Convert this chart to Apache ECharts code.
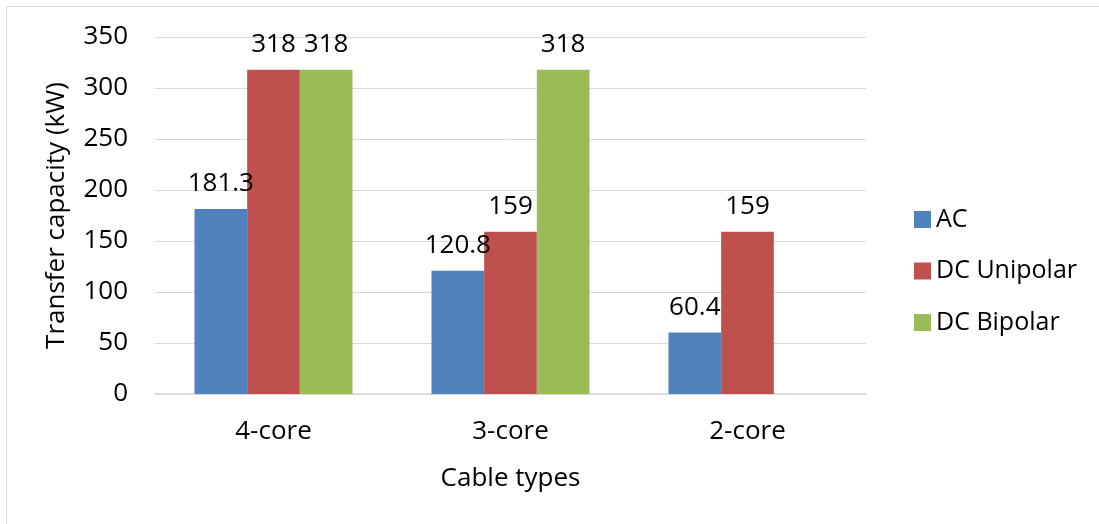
<!DOCTYPE html>
<html>
<head>
<meta charset="utf-8">
<script src="https://cdn.jsdelivr.net/npm/echarts@6/dist/echarts.min.js"></script>
<style>
  html, body { margin: 0; padding: 0; background: #fff; }
  #chart { width: 1099px; height: 524px; }
</style>
</head>
<body>
<div id="chart"></div>
<script>
// Cable types and transfer capacity per system (kW)
const categories = ['4-core', '3-core', '2-core'];
const seriesNames = ['AC', 'DC Unipolar', 'DC Bipolar'];
const acValues = [181.3, 120.8, 60.4];
const dcUnipolarValues = [318, 159, 159];
const dcBipolarValues = [318, 318, null];
const colors = ['#4F81BD', '#C0504D', '#9BBB59'];

const FONT = '"Open Sans", "Noto Sans", sans-serif';
const FS = 26;

const chart = echarts.init(document.getElementById('chart'), null, { renderer: 'canvas' });

function barSeries(name, data, color) {
  return {
    name: name,
    type: 'bar',
    data: data,
    barGap: '0%',
    barCategoryGap: '33.33%',
    itemStyle: { color: color },
    label: {
      show: true,
      position: 'top',
      distance: 12,
      color: '#000',
      fontFamily: FONT,
      fontSize: FS
    }
  };
}

chart.setOption({
  animation: false,
  color: colors,
  textStyle: { fontFamily: FONT },
  graphic: [{
    type: 'rect',
    shape: { x: 6.5, y: 6.5, width: 1200, height: 600 },
    style: { fill: 'none', stroke: '#d9d9d9', lineWidth: 1 },
    silent: true
  }],
  grid: { left: 155, right: 233, top: 37, bottom: 130 },
  legend: {
    orient: 'vertical',
    left: 909,
    top: 202,
    itemWidth: 17,
    itemHeight: 17,
    itemGap: 26.5,
    icon: 'rect',
    data: seriesNames,
    textStyle: { color: '#000', fontFamily: FONT, fontSize: 25, lineHeight: 25 }
  },
  xAxis: {
    type: 'category',
    data: categories,
    name: 'Cable types',
    nameLocation: 'middle',
    nameGap: 72,
    nameTextStyle: { color: '#000', fontFamily: FONT, fontSize: FS },
    axisLine: { lineStyle: { color: '#d9d9d9', width: 1.5 } },
    axisTick: { show: false },
    axisLabel: { color: '#000', fontFamily: FONT, fontSize: FS, margin: 25 }
  },
  yAxis: {
    type: 'value',
    min: 0,
    max: 350,
    interval: 50,
    name: 'Transfer capacity (kW)',
    nameLocation: 'middle',
    nameGap: 85,
    nameTextStyle: { color: '#000', fontFamily: FONT, fontSize: FS },
    axisLine: { show: false },
    axisTick: { show: false },
    splitLine: { lineStyle: { color: '#d9d9d9', width: 1 } },
    axisLabel: { color: '#000', fontFamily: FONT, fontSize: FS, margin: 27 }
  },
  series: [
    barSeries(seriesNames[0], acValues, colors[0]),
    barSeries(seriesNames[1], dcUnipolarValues, colors[1]),
    barSeries(seriesNames[2], dcBipolarValues, colors[2])
  ]
});
</script>
</body>
</html>
